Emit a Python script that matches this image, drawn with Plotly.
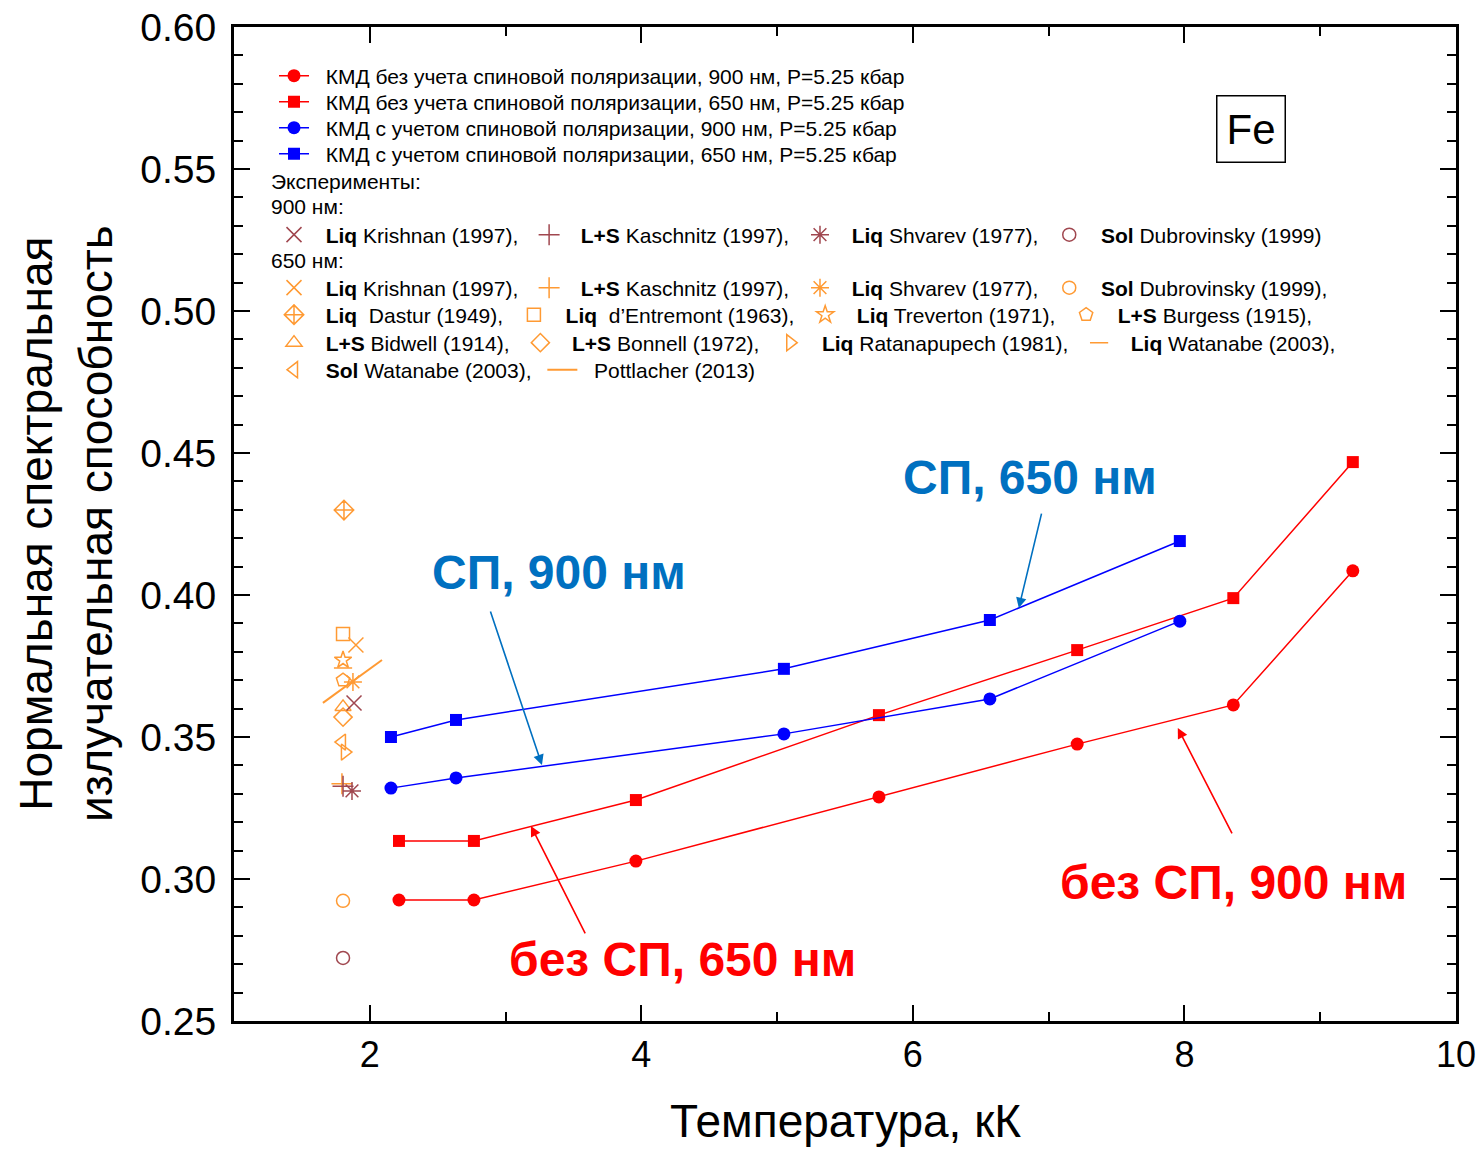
import plotly.graph_objects as go

# ---------------- data ----------------
# Model (КМД) results, temperature in kK
T_nosp = [2.215, 2.767, 3.96, 5.75, 7.21, 8.36, 9.24]
eps_nosp_900 = [0.2926, 0.2926, 0.3063, 0.3289, 0.3475, 0.3613, 0.4085]
eps_nosp_650 = [0.3134, 0.3134, 0.3278, 0.3577, 0.3806, 0.3989, 0.4468]
T_sp = [2.156, 2.635, 5.05, 6.567, 7.966]
eps_sp_900 = [0.3320, 0.3356, 0.3511, 0.3634, 0.3908]
eps_sp_650 = [0.3500, 0.3560, 0.3740, 0.3912, 0.4190]

model_names = [
    "КМД без учета спиновой поляризации, 900 нм, P=5.25 кбар",
    "КМД без учета спиновой поляризации, 650 нм, P=5.25 кбар",
    "КМД с учетом спиновой поляризации, 900 нм, P=5.25 кбар",
    "КМД с учетом спиновой поляризации, 650 нм, P=5.25 кбар",
]

# Experiments, 900 nm
exp900_names = ["<b>Liq</b> Krishnan (1997),", "<b>L+S</b> Kaschnitz (1997),",
                "<b>Liq</b> Shvarev (1977),", "<b>Sol</b> Dubrovinsky (1999)"]
exp900_T = [1.884, 1.803, 1.869, 1.803]
exp900_eps = [0.3620, 0.3327, 0.3310, 0.2722]

# Experiments, 650 nm
exp650_names = ["<b>Liq</b> Krishnan (1997),", "<b>L+S</b> Kaschnitz (1997),",
                "<b>Liq</b> Shvarev (1977),", "<b>Sol</b> Dubrovinsky (1999),",
                "<b>Liq</b>  Dastur (1949),", "<b>Liq</b>  d’Entremont (1963),",
                "<b>Liq</b> Treverton (1971),", "<b>L+S</b> Burgess (1915),",
                "<b>L+S</b> Bidwell (1914),", "<b>L+S</b> Bonnell (1972),",
                "<b>Liq</b> Ratanapupech (1981),", "<b>Liq</b> Watanabe (2003),",
                "<b>Sol</b> Watanabe (2003),"]
exp650_T = [1.898, 1.795, 1.876, 1.803, 1.810, 1.803, 1.803, 1.803,
            1.803, 1.803, 1.817, 1.803, 1.795]
exp650_eps = [0.3824, 0.3335, 0.3694, 0.2923, 0.4299, 0.3863, 0.3771, 0.3700,
              0.3606, 0.3570, 0.3447, 0.3743, 0.3482]

pott_name = "Pottlacher (2013)"
pott_T = [1.655, 2.090]
pott_eps = [0.3620, 0.3771]

x_ticks = [2, 4, 6, 8, 10]
y_ticks = [0.25, 0.30, 0.35, 0.40, 0.45, 0.50, 0.55, 0.60]

# ---------------- styles ----------------
RED = "#FF0000"
BLUE = "#0000FF"
ABLUE = "#0070C0"
BROWN = "#A0474F"
ORANGE = "#FF9A33"
FONT = "Liberation Sans, Arial, sans-serif"
NB = "\u00a0\u00a0"
NE = "\u00a0"

sym900 = ["x-thin-open", "cross-thin-open", "asterisk-open", "circle-open"]
sym650 = ["x-thin-open", "cross-thin-open", "asterisk-open", "circle-open",
          "diamond-cross-open", "square-open", "star-open", "pentagon-open",
          "triangle-up-open", "diamond-open", "triangle-right-open", "line-ew-open",
          "triangle-left-open"]
size900 = [15, 15, 15, 13]
size650 = [15, 15, 15, 13, 15, 13, 13, 14, 14, 14, 14, 13, 14]
row650 = ["legend6"] * 4 + ["legend7"] * 4 + ["legend8"] * 4 + ["legend9"]

fig = go.Figure()

for i, name in enumerate(exp650_names):
    fig.add_trace(go.Scatter(
        x=[exp650_T[i]], y=[exp650_eps[i]], mode="markers", name=NB + name + NE,
        legend=row650[i],
        marker=dict(symbol=sym650[i], size=size650[i], color=ORANGE,
                    line=dict(color=ORANGE, width=1.5)),
    ))
fig.add_trace(go.Scatter(
    x=pott_T, y=pott_eps, mode="lines", name=NB + pott_name, legend="legend9",
    line=dict(color=ORANGE, width=2),
))
for i, name in enumerate(exp900_names):
    fig.add_trace(go.Scatter(
        x=[exp900_T[i]], y=[exp900_eps[i]], mode="markers", name=NB + name + NE,
        legend="legend5",
        marker=dict(symbol=sym900[i], size=size900[i], color=BROWN,
                    line=dict(color=BROWN, width=1.5)),
    ))

model_specs = [
    (T_nosp, eps_nosp_900, RED, "circle", "legend"),
    (T_nosp, eps_nosp_650, RED, "square", "legend2"),
    (T_sp, eps_sp_900, BLUE, "circle", "legend3"),
    (T_sp, eps_sp_650, BLUE, "square", "legend4"),
]
for (xs, ys, col, sym, lg), name in zip(model_specs, model_names):
    fig.add_trace(go.Scatter(
        x=xs, y=ys, mode="lines+markers", name=NB + name, legend=lg,
        line=dict(color=col, width=1.5),
        marker=dict(symbol=sym, size=13 if sym == "circle" else 12, color=col),
    ))

W, H = 1480, 1149
L, R, T, B = 234, 24, 27, 128
pw, ph = W - L - R, H - T - B


def px(xp):
    return (xp - L) / pw


def py(yp):
    return (H - B - yp) / ph


LFS = 21
leg_common = dict(font=dict(family=FONT, size=LFS, color="black"),
                  bgcolor="rgba(0,0,0,0)", borderwidth=0, tracegroupgap=0,
                  itemclick=False, traceorder="normal", orientation="h",
                  xanchor="left", yanchor="middle")

rows_y = {"legend": 76, "legend2": 102, "legend3": 128, "legend4": 154,
          "legend5": 235, "legend6": 288, "legend7": 315, "legend8": 343, "legend9": 370}
layout_legends = {}
for k, yy in rows_y.items():
    layout_legends[k] = dict(x=px(274), y=py(yy), **leg_common)

axis_common = dict(showline=True, linecolor="black", linewidth=3, mirror="allticks",
                   ticks="inside", tickcolor="black", tickwidth=2,
                   showgrid=False, zeroline=False)

fig.update_layout(
    width=W, height=H, margin=dict(l=L, r=R, t=T, b=B, autoexpand=False),
    plot_bgcolor="white", paper_bgcolor="white",
    showlegend=True,
    xaxis=dict(range=[1, 10], tickvals=x_ticks, ticklen=16,
               tickfont=dict(family=FONT, size=36, color="black"),
               minor=dict(dtick=1, tick0=1, ticks="inside", ticklen=9, tickwidth=2,
                          tickcolor="black"),
               **axis_common),
    yaxis=dict(range=[0.25, 0.60], tickvals=y_ticks, tickformat=".2f", ticklen=16,
               tickfont=dict(family=FONT, size=39, color="black"),
               ticklabelstandoff=7,
               minor=dict(dtick=0.01, tick0=0.25, ticks="inside", ticklen=9, tickwidth=2,
                          tickcolor="black"),
               **axis_common),
    **layout_legends,
)

annots = []
annots.append(dict(text="Температура, кК", x=0.5, y=py(1121), xref="paper", yref="paper",
                   showarrow=False, font=dict(family=FONT, size=46, color="black"),
                   xanchor="center", yanchor="middle"))
annots.append(dict(text="Нормальная спектральная<br>излучательная способность",
                   x=px(66), y=0.5, xref="paper", yref="paper", textangle=-90,
                   showarrow=False, font=dict(family=FONT, size=46, color="black"),
                   xanchor="center", yanchor="middle"))
for txt, yy in [("Эксперименты:", 181), ("900 нм:", 207), ("650 нм:", 260)]:
    annots.append(dict(text=txt, x=px(269), y=py(yy), xref="paper", yref="paper",
                       showarrow=False, xanchor="left", yanchor="middle",
                       font=dict(family=FONT, size=LFS, color="black")))
annots.append(dict(text="Fe", x=px(1251), y=py(129), xref="paper", yref="paper",
                   showarrow=False, xanchor="center", yanchor="middle",
                   font=dict(family=FONT, size=42, color="black"),
                   bordercolor="black", borderwidth=1.5, borderpad=9, bgcolor="white"))
labels = [
    ("СП, 650 нм", 6.86, 0.4415, ABLUE),
    ("СП, 900 нм", 3.393, 0.4081, ABLUE),
    ("без СП, 900 нм", 8.364, 0.2989, RED),
    ("без СП, 650 нм", 4.306, 0.2715, RED),
]
for txt, xx, yy, col in labels:
    annots.append(dict(text="<b>" + txt + "</b>", x=xx, y=yy, xref="x", yref="y",
                       showarrow=False, xanchor="center", yanchor="middle",
                       font=dict(family=FONT, size=48, color=col)))
arrows = [
    (6.78, 0.3954, 6.95, 0.4292, ABLUE),
    (3.268, 0.3401, 2.885, 0.3947, ABLUE),
    (7.951, 0.3532, 8.356, 0.3155, RED),
    (3.187, 0.3187, 3.592, 0.2803, RED),
]
for hx, hy, tx, ty, col in arrows:
    annots.append(dict(text="", x=hx, y=hy, ax=tx, ay=ty, xref="x", yref="y",
                       axref="x", ayref="y", showarrow=True, arrowhead=2,
                       arrowsize=1.3, arrowwidth=1.6, arrowcolor=col, standoff=0))

fig.update_layout(annotations=annots)

fig.write_html("out.html")
